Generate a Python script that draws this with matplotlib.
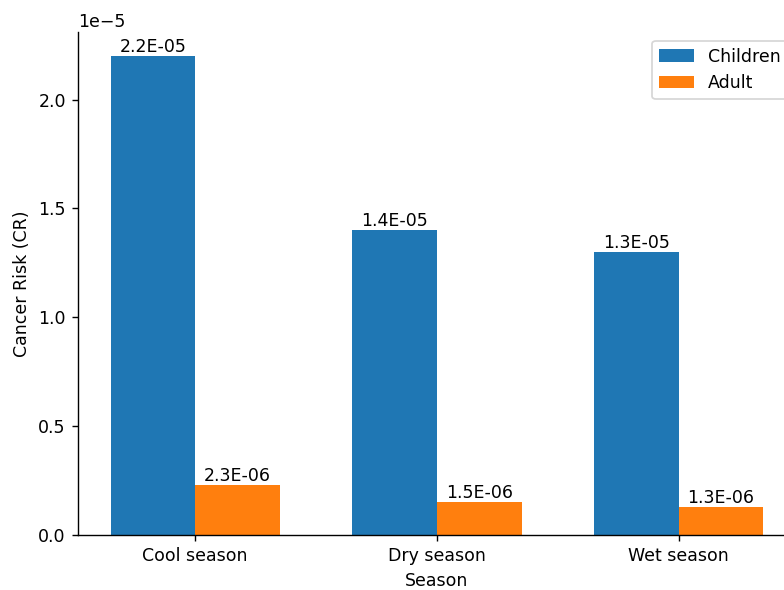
import matplotlib.pyplot as plt
import numpy as np

seasons = ["Cool season", "Dry season", "Wet season"]
children = [2.2e-05, 1.4e-05, 1.3e-05]
adult = [2.3e-06, 1.5e-06, 1.3e-06]

x = np.arange(len(seasons))
width = 0.35

fig = plt.figure(figsize=(784 / 125, 590 / 125), dpi=125)
ax = fig.add_axes([78 / 784, 55 / 590, 718 / 784, 503 / 590])

b1 = ax.bar(x - width / 2, children, width, label="Children")
b2 = ax.bar(x + width / 2, adult, width, label="Adult")

ax.bar_label(b1, fmt="%.1E")
ax.bar_label(b2, fmt="%.1E")

ax.set_xticks(x)
ax.set_xticklabels(seasons)
ax.set_xlabel("Season")
ax.set_ylabel("Cancer Risk (CR)")
ax.legend(loc="upper right")
ax.spines["top"].set_visible(False)
ax.spines["right"].set_visible(False)

fig.savefig("out.png", dpi=125)
